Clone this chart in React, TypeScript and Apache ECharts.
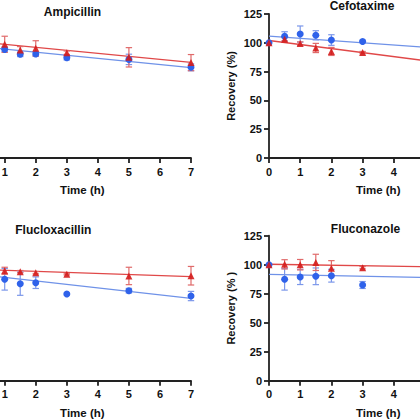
import React, { useEffect, useRef } from "react";
import * as echarts from "echarts";

// ---- data ----
const titles = ["Ampicillin", "Cefotaxime", "Flucloxacillin", "Fluconazole"];
const yNames = ["Recovery (%)", "Recovery (%)", "Recovery (%)", "Recovery (% )"];

// Ampicillin
const ampTimes = [1, 1.5, 2, 3, 5, 7];
const ampRed = [98.7, 93.7, 95.2, 91.4, 87.4, 82.8];
const ampRedErr = [7, 3, 6.6, 1.5, 8.4, 7];
const ampBlue = [94.3, 90, 90.3, 87.1, 85.6, 78.7];
const ampBlueErr = [2, 2, 2, 2, 4.5, 3];
const ampRedFit = [[0, 101.3], [7, 83]];
const ampBlueFit = [[0, 97.3], [7, 78.5]];

// Cefotaxime
const cefTimes = [0, 0.5, 1, 1.5, 2, 3];
const cefRed = [100, 103, 99.3, 95.5, 92.5, 91.5];
const cefRedErr = [0, 1.5, 1.5, 4, 3.5, 1];
const cefBlue = [100, 105.6, 107.6, 106.5, 102.4, 101.2];
const cefBlueErr = [0, 4, 7, 4, 4.6, 1];
const cefRedFit = [[0, 102], [7, 77.5]];
const cefBlueFit = [[0, 105.8], [7, 92.2]];

// Flucloxacillin
const fluTimes = [1, 1.5, 2, 3, 5, 7];
const fluRed = [94.8, 94, 93.1, 91.7, 90.3, 90.5];
const fluRedErr = [3, 1, 1, 0.5, 7.5, 8];
const fluBlue = [87.4, 83.6, 84.5, 74.7, 77.6, 73];
const fluBlueErr = [9.3, 10, 5, 0, 2, 4];
const fluRedFit = [[0, 96.1], [7, 89.7]];
const fluBlueFit = [[0, 92.1], [7, 71]];

// Fluconazole
const fcnTimes = [0, 0.5, 1, 1.5, 2, 3];
const fcnRed = [100, 100.3, 100, 102, 97, 97.4];
const fcnRedErr = [0, 4, 4.5, 7, 6.5, 1];
const fcnBlue = [100, 87.4, 89.4, 90, 90.5, 82.5];
const fcnBlueErr = [0, 9.3, 6.5, 7.2, 5.5, 3];
const fcnRedFit = [[0, 100.4], [7, 97.5]];
const fcnBlueFit = [[0, 91.7], [7, 88]];

const xTickMin = 0;
const xTickMax = 7;
const yTickMin = 0;
const yTickMax = 125;
// tick labels that fall inside the visible crop
const leftXLabels = [1, 2, 3, 4, 5, 6, 7];
const rightXLabels = [0, 1, 2, 3, 4];

// ---- style ----
const FONT = "'Liberation Sans', Arial, sans-serif";
const RED = "#d41c1c";
const RED_LINE = "#e04848";
const RED_ERR = "#e06a6a";
const BLUE = "#2f62ea";
const BLUE_LINE = "#6f92e8";
const BLUE_ERR = "#7b97ea";
const AXIS = "#222";

const OFFSET = 80; // inner chart is shifted left so left panels are cut off

const panels = [
  { times: ampTimes, red: ampRed, redErr: ampRedErr, blue: ampBlue, blueErr: ampBlueErr, redFit: ampRedFit, blueFit: ampBlueFit, left: true },
  { times: cefTimes, red: cefRed, redErr: cefRedErr, blue: cefBlue, blueErr: cefBlueErr, redFit: cefRedFit, blueFit: cefBlueFit, left: false },
  { times: fluTimes, red: fluRed, redErr: fluRedErr, blue: fluBlue, blueErr: fluBlueErr, redFit: fluRedFit, blueFit: fluBlueFit, left: true },
  { times: fcnTimes, red: fcnRed, redErr: fcnRedErr, blue: fcnBlue, blueErr: fcnBlueErr, redFit: fcnRedFit, blueFit: fcnBlueFit, left: false },
];

const grids = [
  { left: -26.35 + OFFSET, top: 14, width: 217.35, height: 144 },
  { left: 269 + OFFSET, top: 14, width: 218.4, height: 144 },
  { left: -26.35 + OFFSET, top: 235.7, width: 217.35, height: 145 },
  { left: 269 + OFFSET, top: 235.7, width: 218.4, height: 145 },
];

const titlePos = [
  [72.5 + OFFSET, 12.3],
  [362 + OFFSET, 6],
  [53.3 + OFFSET, 229.5],
  [365.5 + OFFSET, 228.7],
];

function errData(times: number[], means: number[], errs: number[]) {
  const out: number[][] = [];
  times.forEach((t, i) => {
    if (errs[i] > 0) out.push([t, means[i] - errs[i], means[i] + errs[i]]);
  });
  return out;
}

function errSeries(gi: number, data: number[][], color: string) {
  return {
    type: "custom",
    xAxisIndex: gi,
    yAxisIndex: gi,
    z: 3,
    data,
    renderItem: (params: any, api: any) => {
      const x = api.value(0);
      const lo = api.coord([x, api.value(1)]);
      const hi = api.coord([x, api.value(2)]);
      const w = 3.2;
      const style = { stroke: color, lineWidth: 1.2 };
      return {
        type: "group",
        children: [
          { type: "line", shape: { x1: hi[0], y1: hi[1], x2: lo[0], y2: lo[1] }, style },
          { type: "line", shape: { x1: hi[0] - w, y1: hi[1], x2: hi[0] + w, y2: hi[1] }, style },
          { type: "line", shape: { x1: lo[0] - w, y1: lo[1], x2: lo[0] + w, y2: lo[1] }, style },
        ],
      };
    },
  };
}

function buildOption() {
  const xAxis: any[] = [];
  const yAxis: any[] = [];
  const series: any[] = [];
  const graphic: any[] = [];
  panels.forEach((p, gi) => {
    const shown = p.left ? leftXLabels : rightXLabels;
    xAxis.push({
      gridIndex: gi,
      type: "value",
      min: xTickMin,
      max: xTickMax,
      interval: 1,
      axisLine: { show: true, onZero: false, lineStyle: { color: AXIS, width: 1.8 } },
      axisTick: { show: true, length: 5, lineStyle: { color: AXIS, width: 1.8 } },
      axisLabel: {
        color: "#111",
        fontWeight: "bold",
        fontSize: 11,
        fontFamily: FONT,
        margin: 8,
        formatter: (v: number) => (shown.indexOf(v) >= 0 ? String(v) : ""),
      },
      splitLine: { show: false },
      name: "Time (h)",
      nameLocation: "middle",
      nameGap: 26,
      nameTextStyle: { color: "#111", fontWeight: "bold", fontSize: 11.5, fontFamily: FONT },
    });
    yAxis.push({
      gridIndex: gi,
      type: "value",
      min: yTickMin,
      max: yTickMax,
      interval: 25,
      axisLine: { show: true, onZero: false, lineStyle: { color: AXIS, width: 1.8 } },
      axisTick: { show: true, length: 5, lineStyle: { color: AXIS, width: 1.8 } },
      axisLabel: { show: !p.left, color: "#111", fontWeight: "bold", fontSize: 11, fontFamily: FONT, margin: 7 },
      splitLine: { show: false },
      name: p.left ? "" : yNames[gi],
      nameLocation: "middle",
      nameGap: 33,
      nameTextStyle: { color: "#111", fontWeight: "bold", fontSize: 11, fontFamily: FONT },
    });
    series.push(errSeries(gi, errData(p.times, p.blue, p.blueErr), BLUE_ERR));
    series.push(errSeries(gi, errData(p.times, p.red, p.redErr), RED_ERR));
    series.push({
      type: "line",
      xAxisIndex: gi,
      yAxisIndex: gi,
      data: p.blueFit,
      symbol: "none",
      z: 2,
      lineStyle: { color: BLUE_LINE, width: 1.3 },
    });
    series.push({
      type: "line",
      xAxisIndex: gi,
      yAxisIndex: gi,
      data: p.redFit,
      symbol: "none",
      z: 2,
      lineStyle: { color: RED_LINE, width: 1.3 },
    });
    series.push({
      type: "scatter",
      xAxisIndex: gi,
      yAxisIndex: gi,
      data: p.times.map((t, i) => [t, p.blue[i]]),
      symbol: "circle",
      symbolSize: 7,
      z: 4,
      itemStyle: { color: BLUE, opacity: 1 },
    });
    series.push({
      type: "scatter",
      xAxisIndex: gi,
      yAxisIndex: gi,
      data: p.times.map((t, i) => [t, p.red[i]]),
      symbol: "triangle",
      symbolSize: 7,
      z: 4,
      itemStyle: { color: RED, opacity: 0.9 },
    });
    graphic.push({
      type: "text",
      x: titlePos[gi][0],
      y: titlePos[gi][1],
      style: {
        text: titles[gi],
        fill: "#111",
        font: `bold 12px ${FONT}`,
        textAlign: "center",
        textVerticalAlign: "middle",
      },
    });
  });
  return {
    animation: false,
    backgroundColor: "#ffffff",
    grid: grids.map((g) => ({ ...g, containLabel: false })),
    xAxis,
    yAxis,
    series,
    graphic,
  };
}

function Chart() {
  const ref = useRef<HTMLDivElement>(null);
  useEffect(() => {
    if (!ref.current) return;
    const chart = echarts.init(ref.current, undefined, { renderer: "svg" });
    chart.setOption(buildOption() as any);
    return () => chart.dispose();
  }, []);
  return (
    <div
      ref={ref}
      style={{ position: "absolute", left: -OFFSET, top: 0, width: 600, height: 420 }}
    />
  );
}

export default function App() {
  return (
    <div
      style={{
        position: "fixed",
        left: 0,
        top: 0,
        width: 420,
        height: 420,
        overflow: "hidden",
        background: "#fff",
      }}
    >
      <Chart />
    </div>
  );
}
